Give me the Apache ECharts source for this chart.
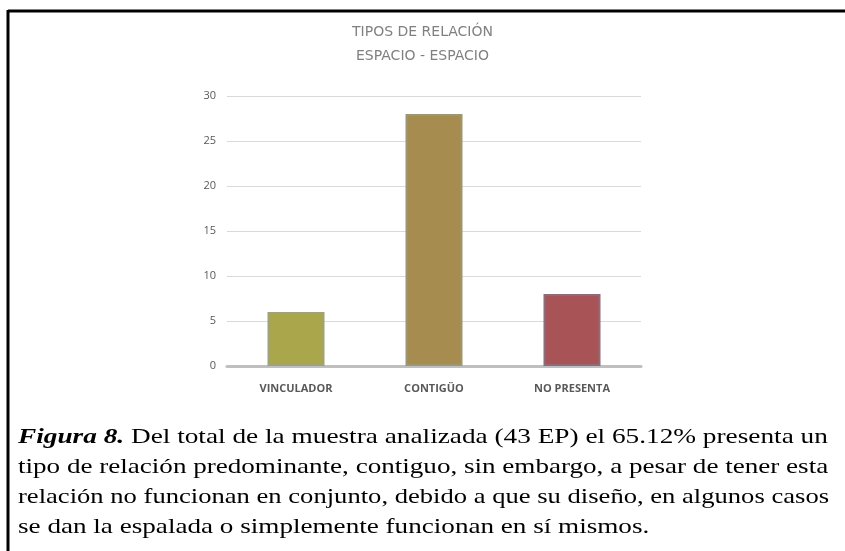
<!DOCTYPE html>
<html>
<head>
<meta charset="utf-8">
<script src="https://cdn.jsdelivr.net/npm/echarts@6/dist/echarts.min.js"></script>
<style>
  html, body { margin: 0; padding: 0; background: #fff; }
  #chart { width: 845px; height: 551px; }
</style>
</head>
<body>
<div id="chart"></div>
<script>
// datos
const categorias = ['VINCULADOR', 'CONTIGÜO', 'NO PRESENTA']
const valores = [6, 28, 8]
const coloresBarra = ['#a9a64b', '#a68c4f', '#a85457']
const bordesBarra = ['#a0a27a', '#9d9672', '#8d6b78']
const tituloLineas = ['TIPOS DE RELACIÓN', 'ESPACIO - ESPACIO']
const leyenda = [
  ['{b|Figura 8.} ', 'Del total de la muestra analizada (43 EP) el 65.12% presenta un'],
  ['', 'tipo de relación predominante, contiguo, sin embargo, a pesar de tener esta'],
  ['', 'relación no funcionan en conjunto, debido a que su diseño, en algunos casos'],
  ['', 'se dan la espalada o simplemente funcionan en sí mismos.']
]
// estiramiento horizontal de cada linea (texto justificado en el original)
const estirar = [1.24, 1.231, 1.209, 1.233]

const dom = echarts.init(document.getElementById('chart'))

const captionGraphics = leyenda.map((l, i) => ({
  type: 'text',
  x: 18,
  y: 426 + i * 30,
  scaleX: estirar[i],
  style: {
    text: l[0] + l[1],
    font: '22px "Liberation Serif"',
    fill: '#000',
    rich: {
      b: { font: 'italic bold 22px "Liberation Serif"', fill: '#000' }
    }
  }
}))

const option = {
  animation: false,
  title: {
    text: tituloLineas.join('\n'),
    left: 'center',
    top: 15,
    textStyle: {
      fontFamily: 'DejaVu Sans',
      fontSize: 14,
      fontWeight: 'normal',
      color: '#808080',
      lineHeight: 24
    }
  },
  grid: {
    left: 227,
    right: 204,
    top: 96,
    bottom: 185
  },
  xAxis: {
    type: 'category',
    data: categorias,
    axisLine: { lineStyle: { color: '#bfbfbf', width: 3 } },
    axisTick: { show: false },
    axisLabel: {
      color: '#595959',
      fontFamily: 'Open Sans',
      fontSize: 11,
      fontWeight: 'bold',
      margin: 17
    }
  },
  yAxis: {
    type: 'value',
    min: 0,
    max: 30,
    interval: 5,
    axisLine: { show: false },
    axisTick: { show: false },
    axisLabel: {
      color: '#595959',
      fontFamily: 'Open Sans',
      fontSize: 11,
      margin: 11
    },
    splitLine: { lineStyle: { color: '#d9d9d9', width: 1 } }
  },
  series: [
    {
      type: 'bar',
      barWidth: 57,
      data: valores.map((v, i) => ({
        value: v,
        itemStyle: {
          color: coloresBarra[i],
          borderColor: bordesBarra[i],
          borderWidth: 2
        }
      }))
    }
  ],
  graphic: [
    {
      type: 'line',
      shape: { x1: 8, y1: 11, x2: 845, y2: 11 },
      style: { stroke: '#000', lineWidth: 3 }
    },
    {
      type: 'line',
      shape: { x1: 8, y1: 10, x2: 8, y2: 551 },
      style: { stroke: '#000', lineWidth: 3 }
    }
  ].concat(captionGraphics)
}

dom.setOption(option)
</script>
</body>
</html>
